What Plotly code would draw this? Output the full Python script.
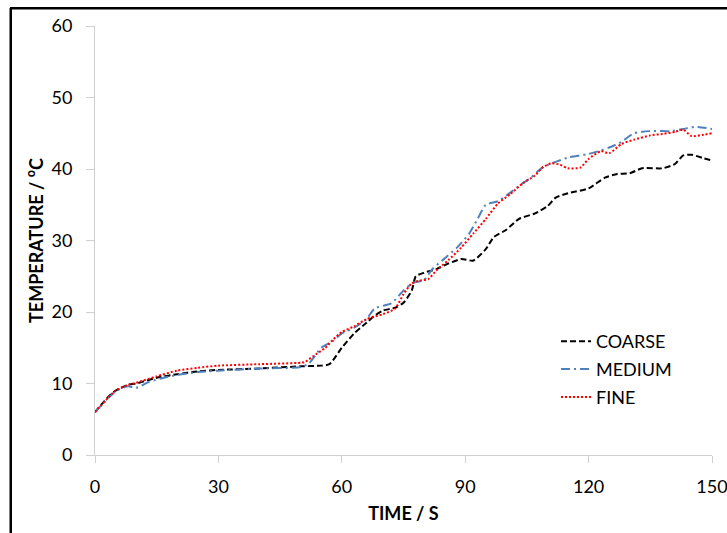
import plotly.graph_objects as go

coarse_t = [0, 3, 5, 8, 10, 15, 20, 25, 30, 40, 50, 55, 57, 60, 63, 66, 68, 70, 73, 75, 77, 78, 80, 83, 86, 89, 92, 95, 97, 100, 103, 107, 110, 112, 115, 120, 124, 127, 130, 133, 138, 141, 143, 145, 148, 150]
coarse_v = [6.0, 8.0, 9.0, 9.8, 10.0, 10.8, 11.3, 11.7, 11.9, 12.1, 12.4, 12.5, 12.7, 15.0, 17.0, 18.5, 19.5, 20.2, 20.6, 21.3, 23.0, 25.0, 25.5, 26.0, 26.8, 27.4, 27.2, 28.8, 30.5, 31.5, 33.0, 33.8, 34.8, 36.0, 36.6, 37.3, 38.8, 39.3, 39.4, 40.1, 40.1, 40.7, 41.9, 42.0, 41.5, 41.2]

medium_t = [0, 5, 8, 10, 13, 16, 20, 25, 30, 40, 50, 52, 55, 58, 60, 63, 66, 68, 72, 75, 77, 80, 82, 85, 88, 91, 93, 95, 98, 100, 103, 106, 109, 112, 115, 120, 125, 128, 131, 135, 140, 143, 146, 150]
medium_v = [6.0, 8.9, 9.6, 9.4, 10.2, 10.7, 11.2, 11.6, 11.8, 12.1, 12.3, 12.8, 15.0, 16.0, 17.0, 17.8, 19.0, 20.5, 21.2, 23.0, 24.0, 24.5, 26.0, 27.5, 29.0, 31.0, 33.0, 35.0, 35.5, 36.3, 37.6, 38.8, 40.3, 41.0, 41.6, 42.1, 43.0, 43.8, 45.0, 45.3, 45.3, 45.6, 45.9, 45.6]

fine_t = [0, 5, 8, 10, 15, 20, 25, 30, 40, 50, 51, 53, 56, 58, 60, 63, 66, 70, 73, 75, 77, 79, 81, 83, 86, 89, 92, 95, 98, 101, 104, 107, 109, 111, 113, 115, 118, 120, 123, 125, 128, 131, 135, 138, 141, 143, 145, 148, 150]
fine_v = [6.0, 9.0, 9.8, 10.1, 11.0, 11.8, 12.2, 12.5, 12.7, 12.9, 13.0, 13.8, 15.0, 16.2, 17.2, 18.0, 19.0, 19.7, 20.5, 22.5, 24.0, 24.4, 24.6, 25.8, 27.3, 29.0, 31.0, 33.0, 35.2, 36.5, 38.0, 39.1, 40.3, 40.8, 40.6, 40.1, 40.2, 41.4, 42.5, 42.2, 43.5, 44.1, 44.7, 44.9, 45.2, 45.5, 44.6, 44.8, 45.0]

x_ticks = [0, 30, 60, 90, 120, 150]
y_ticks = [0, 10, 20, 30, 40, 50, 60]

W, H = 727, 533
ML, MR, MT, MB = 95, 15, 26, 78
FONT = "Lato"
FS = 18

fig = go.Figure()
fig.add_trace(go.Scatter(x=coarse_t, y=coarse_v, mode="lines", name="COARSE", legendgroup="a",
                         line=dict(color="#000000", width=2, dash="6px,3px", shape="spline", smoothing=0.6)))
fig.add_trace(go.Scatter(x=medium_t, y=medium_v, mode="lines", name="MEDIUM", legendgroup="b",
                         line=dict(color="#4f81bd", width=2, dash="9px,4px,2px,4px", shape="spline", smoothing=0.6)))
fig.add_trace(go.Scatter(x=fine_t, y=fine_v, mode="lines", name="FINE", legendgroup="c",
                         line=dict(color="#ff0000", width=2, dash="2px,2px", shape="spline", smoothing=0.6)))

pw = W - ML - MR
ph = H - MT - MB
def px2x(p):
    return (p - ML) / pw
def px2y(p):
    return (H - MB - p) / ph

fig.update_layout(
    width=W, height=H,
    margin=dict(l=ML, r=MR, t=MT, b=MB),
    paper_bgcolor="white", plot_bgcolor="white",
    font=dict(family=FONT, size=FS, color="#000000"),
    showlegend=True,
    legend=dict(x=px2x(556), y=px2y(323), xanchor="left", yanchor="top",
                font=dict(family=FONT, size=FS, color="#000000"),
                bgcolor="rgba(0,0,0,0)", itemwidth=30, tracegroupgap=1.5),
    xaxis=dict(range=[0, 150], tickvals=x_ticks, ticktext=[str(v) for v in x_ticks],
               showgrid=False, zeroline=False, showline=True, linecolor="#d0d0d0", linewidth=1,
               ticks="outside", ticklen=7, tickcolor="#d0d0d0", ticklabelstandoff=8,
               ticklabeloverflow="allow", automargin=False,
               tickfont=dict(family=FONT, size=FS), fixedrange=True,
               title=dict(text="<b>TIME / S</b>", font=dict(family=FONT, size=FS), standoff=11)),
    yaxis=dict(range=[0, 60], tickvals=y_ticks, ticktext=[str(v) for v in y_ticks],
               showgrid=False, zeroline=False, showline=True, linecolor="#d0d0d0", linewidth=1,
               ticks="outside", ticklen=8, tickcolor="#d0d0d0", ticklabelstandoff=10,
               automargin=False,
               tickfont=dict(family=FONT, size=FS), fixedrange=True,
               title=dict(text="<b>TEMPERATURE / <sup>o</sup>C</b>", font=dict(family=FONT, size=FS), standoff=3)),
    shapes=[
        dict(type="line", xref="paper", yref="paper", x0=px2x(10), x1=px2x(727), y0=px2y(8.5), y1=px2y(8.5),
             line=dict(color="#000000", width=2), layer="above"),
        dict(type="line", xref="paper", yref="paper", x0=px2x(10.5), x1=px2x(10.5), y0=px2y(8), y1=px2y(533),
             line=dict(color="#000000", width=2), layer="above"),
    ],
)

frame_js = (
    "document.body.style.margin='0';document.body.style.overflow='hidden';"
    "var f=document.createElement('div');"
    "f.style.cssText='position:absolute;left:10px;top:7px;width:900px;height:900px;"
    "border-top:2px solid #000;border-left:2px solid #000;pointer-events:none;box-sizing:border-box;';"
    "document.body.appendChild(f);"
)

fig.write_html("out.html",
               config={"displayModeBar": False, "responsive": False},
               post_script=frame_js)
